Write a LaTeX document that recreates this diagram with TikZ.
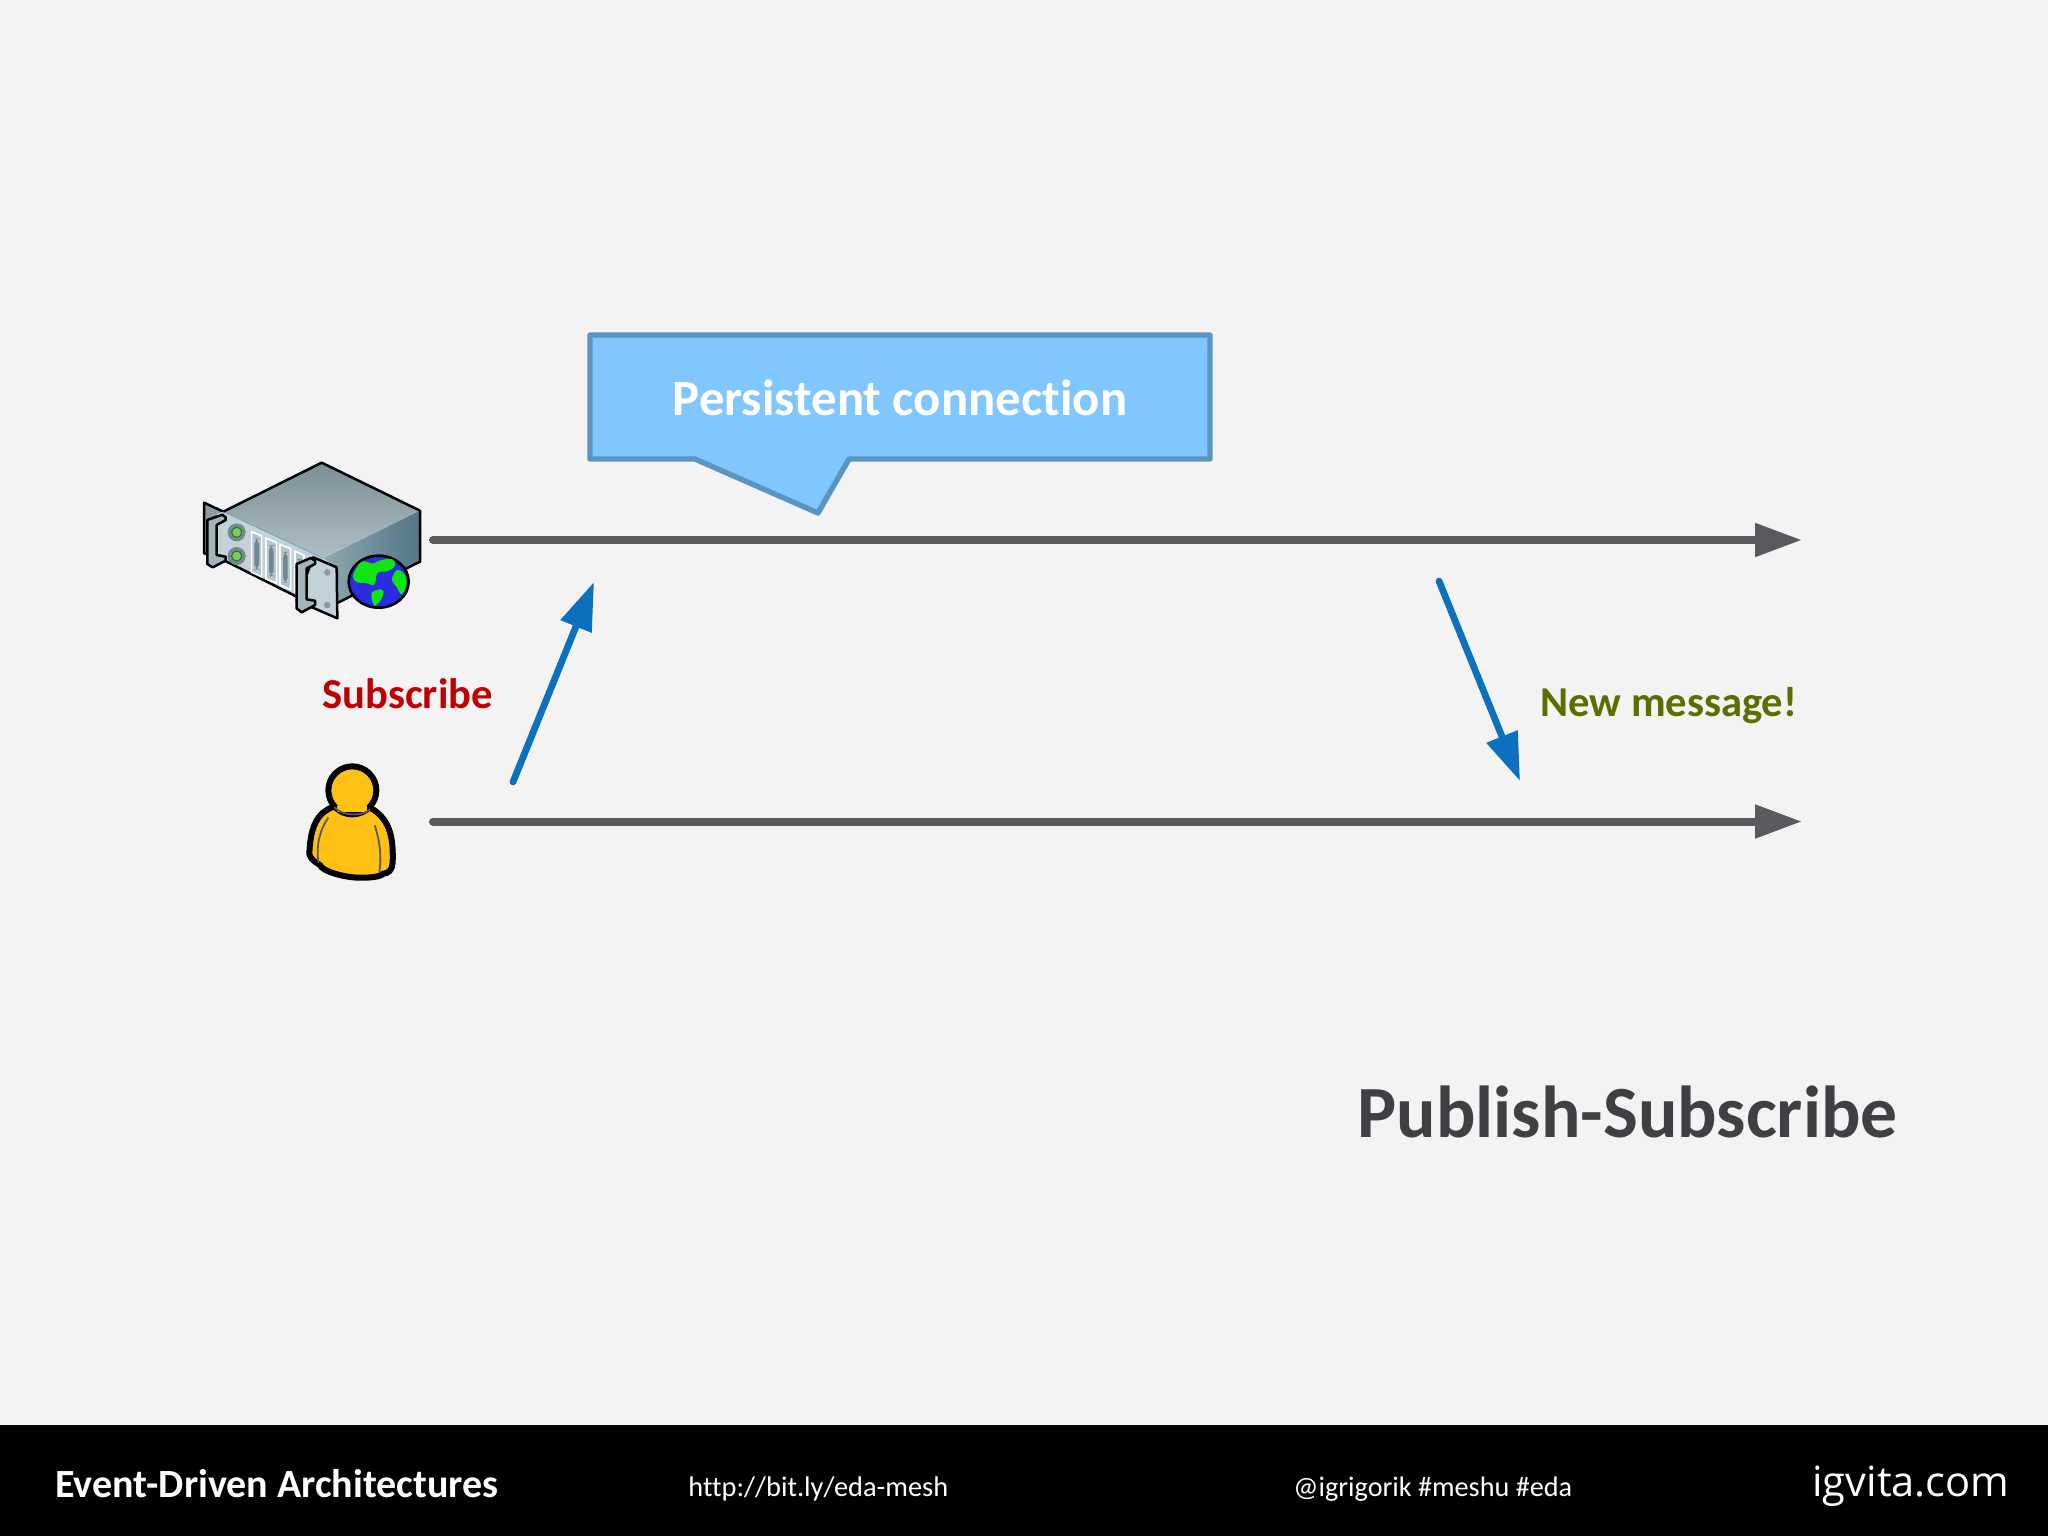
\documentclass[tikz,border=0pt]{standalone}
\usepackage{fontspec}
\setmainfont[Ligatures=NoCommon]{Carlito}
\newfontfamily\logofont{Open Sans}
\usetikzlibrary{arrows.meta}
\definecolor{bgc}{HTML}{F3F3F4}
\definecolor{greyline}{HTML}{5A5A5E}
\definecolor{bluearrow}{HTML}{0B70BE}
\definecolor{calloutfill}{HTML}{80C6FF}
\definecolor{calloutline}{HTML}{5A94C0}
\definecolor{subred}{HTML}{C00000}
\definecolor{newgreen}{HTML}{5C6E00}
\definecolor{titlegrey}{HTML}{404044}
\definecolor{amber}{HTML}{FFC014}
\definecolor{slotc}{HTML}{B4C6CD}
\definecolor{srvTopA}{HTML}{7C8F96}
\definecolor{srvTopB}{HTML}{AEBFC4}
\definecolor{srvSideA}{HTML}{8FA8B0}
\definecolor{srvSideB}{HTML}{527586}
\definecolor{srvFront}{HTML}{C3D2D8}
\definecolor{srvEar}{HTML}{8C9CA5}
\definecolor{srvSlotIn}{HTML}{6F8791}
\definecolor{srvHalo}{HTML}{77878E}
\definecolor{ledEdge}{HTML}{2F6B2F}
\definecolor{ledFill}{HTML}{6FD35A}
\definecolor{srvHandle}{HTML}{A3B4BB}
\definecolor{srvEdge}{HTML}{5FA5B5}
\definecolor{globeSea}{HTML}{2B2BE0}
\definecolor{globeLand}{HTML}{0FE60F}
\tikzset{
 timeline/.style={draw=greyline,line width=4pt,line cap=round,-{Triangle[length=23.5pt,width=16pt]}},
 msgarrow/.style={draw=bluearrow,line width=3.4pt,line cap=round,-{Triangle[length=24pt,width=16pt]}},
 lbl/.style={inner sep=0pt,anchor=base west},
 srv/.style={draw=black,line width=1.25pt,line join=round},
 slot/.style={draw=white,line width=.8pt,fill=slotc}
}
\begin{document}
\begin{tikzpicture}[x=.5pt,y=-.5pt]
\useasboundingbox (0,0) rectangle (2048,1536);
\fill[bgc] (0,0) rectangle (2048,1536);
\fill[black] (0,1425) rectangle (2048,1536);

% timelines
\coordinate (srvStart) at (433,540);
\coordinate (srvEnd) at (1802,540);
\coordinate (usrStart) at (433,821.5);
\coordinate (usrEnd) at (1802,821.5);
\draw[timeline] (srvStart) -- (srvEnd);
\draw[timeline] (usrStart) -- (usrEnd);

% message arrows
\coordinate (subFrom) at (513,782);
\coordinate (subTo) at (594,582);
\coordinate (newFrom) at (1439,581);
\coordinate (newTo) at (1520,781);
\draw[msgarrow] (subFrom) -- (subTo);
\draw[msgarrow] (newFrom) -- (newTo);

% callout
\draw[fill=calloutfill,draw=calloutline,line width=2.7pt,line join=round]
 (590,335) -- (1210,335) -- (1210,459) -- (849,459) -- (818,513) -- (695,459) -- (590,459) -- cycle;
\node[inner sep=0pt,text=white] (callout) at (900,398) {\fontsize{25.4pt}{28pt}\selectfont\bfseries Persistent connection};

% labels
\node[lbl,text=subred] (subscribe) at (322,708) {\fontsize{21.3pt}{24pt}\selectfont\bfseries Subscribe};
\node[lbl,text=newgreen] (newmsg) at (1540,716) {\fontsize{21.3pt}{24pt}\selectfont\bfseries New message!};
\node[lbl,text=titlegrey] (title) at (1357,1137) {\fontsize{36.8pt}{40pt}\selectfont\bfseries Publish-Subscribe};

% footer
\node[lbl,text=white] (foot1) at (55,1497) {\fontsize{20pt}{22pt}\selectfont\bfseries Event-Driven Architectures};
\node[lbl,text=white] (foot2) at (688,1496) {\fontsize{14.2pt}{18pt}\selectfont http://bit.ly/eda-mesh};
\node[lbl,text=white] (foot3) at (1293,1496) {\fontsize{14.1pt}{18pt}\selectfont @igrigorik \#meshu \#eda};
\node[lbl,text=white] (foot4) at (1812,1496) {\fontsize{20.8pt}{22pt}\selectfont\logofont igvita.com};

% server icon
\begin{scope}[shift={(180,440)},x=.16667pt,y=-.16667pt]
 % left ear
 \draw[srv,fill=srvEar] (72,188) -- (130,215) -- (112,350) -- (72,340) -- cycle;
 % top
 \shade[top color=srvTopA,bottom color=srvTopB] (130,215) -- (425,68) -- (720,212) -- (430,355) -- cycle;
 % right side
 \shade[left color=srvSideA,right color=srvSideB] (430,355) -- (720,212) -- (720,365) -- (470,490) -- (470,385) -- cycle;
 % front
 \fill[srvFront] (110,222) -- (130,215) -- (430,355) -- (470,385) -- (470,490) -- (350,470) -- (110,350) -- cycle;
 \draw[srvEdge,line width=.35pt] (130,215) -- (430,355);
 % outline
 \draw[srv] (130,215) -- (425,68) -- (720,212) -- (720,365) -- (470,490);
 \draw[srv] (110,350) -- (350,470);
 % slots
 \foreach \a/\b in {215/245,258/290,300/332,345/372}{
  \path[slot] (\a,{275+(\a-215)*.45}) -- (\b,{288+(\a-215)*.45}) -- (\b,{410+(\a-215)*.45}) -- (\a,{397+(\a-215)*.45}) -- cycle;
  \fill[srvSlotIn,rounded corners=3pt] ({(\a+\b)/2-7},{296+(\a-215)*.47}) rectangle ({(\a+\b)/2+7},{388+(\a-215)*.47});
 }
 % LEDs
 \fill[srvHalo] (170,277) circle (27);
 \fill[srvHalo] (170,348) circle (27);
 \draw[draw=ledEdge,fill=ledFill,line width=.5pt] (170,277) circle (15);
 \draw[draw=ledEdge,fill=ledFill,line width=.5pt] (170,348) circle (15);
 % right plate
 \draw[srv,fill=srvFront] (400,352) -- (470,382) -- (472,535) -- (350,482) -- cycle;
 \fill[srvEar] (442,397) circle (10);
 \fill[srvEar] (442,495) circle (10);
 % handles
 \draw[srv,fill=srvHandle] (82,240) -- (127,224) -- (137,232) -- (137,240) -- (110,255) -- (110,345) -- (137,350) -- (137,362) -- (98,382) -- (82,372) -- cycle;
 \draw[srv,fill=srvHandle] (350,372) -- (392,354) -- (405,362) -- (405,372) -- (380,385) -- (380,478) -- (405,482) -- (405,495) -- (365,517) -- (350,505) -- cycle;
 % globe
 \draw[draw=black,line width=1.3pt,fill=globeSea] (596,425) ellipse (90 and 78);
 \fill[globeLand,rounded corners=2pt] (540,365) -- (560,362) -- (575,375) -- (600,360) -- (640,355) -- (650,375) -- (625,395) -- (590,395) -- (585,440) -- (560,428) -- (530,430) -- (515,410) -- cycle;
 \fill[globeLand,rounded corners=2pt] (572,455) -- (610,445) -- (612,465) -- (590,498) -- (578,495) -- cycle;
 \fill[globeLand,rounded corners=2pt] (650,385) -- (675,400) -- (682,430) -- (665,470) -- (650,440) -- (632,420) -- cycle;
\end{scope}

% user icon
\begin{scope}[shift={(280,741)},x=.16667pt,y=-.16667pt]
 \draw[draw=black,line width=3pt,fill=amber,line join=round]
  (160,198) .. controls (115,212) and (90,255) .. (88,340)
  .. controls (95,360) and (110,365) .. (120,372)
  .. controls (125,390) and (195,412) .. (250,410)
  .. controls (280,410) and (305,405) .. (310,398)
  .. controls (325,398) and (338,385) .. (338,365)
  .. controls (340,300) and (335,235) .. (270,200) -- cycle;
 \draw[draw=black,line width=3pt,fill=amber] (217,148) circle (72);
 \fill[amber] (170,195) -- (262,195) -- (262,212) -- (170,212) -- cycle;
 \draw[draw=black!65,line width=.9pt] (162,198) .. controls (185,225) and (245,228) .. (270,205);
 \draw[draw=black!65,line width=.9pt] (145,230) .. controls (120,265) and (108,310) .. (115,365);
 \draw[draw=black!65,line width=.9pt] (284,253) .. controls (300,300) and (305,350) .. (298,395);
\end{scope}
\end{tikzpicture}
\end{document}
